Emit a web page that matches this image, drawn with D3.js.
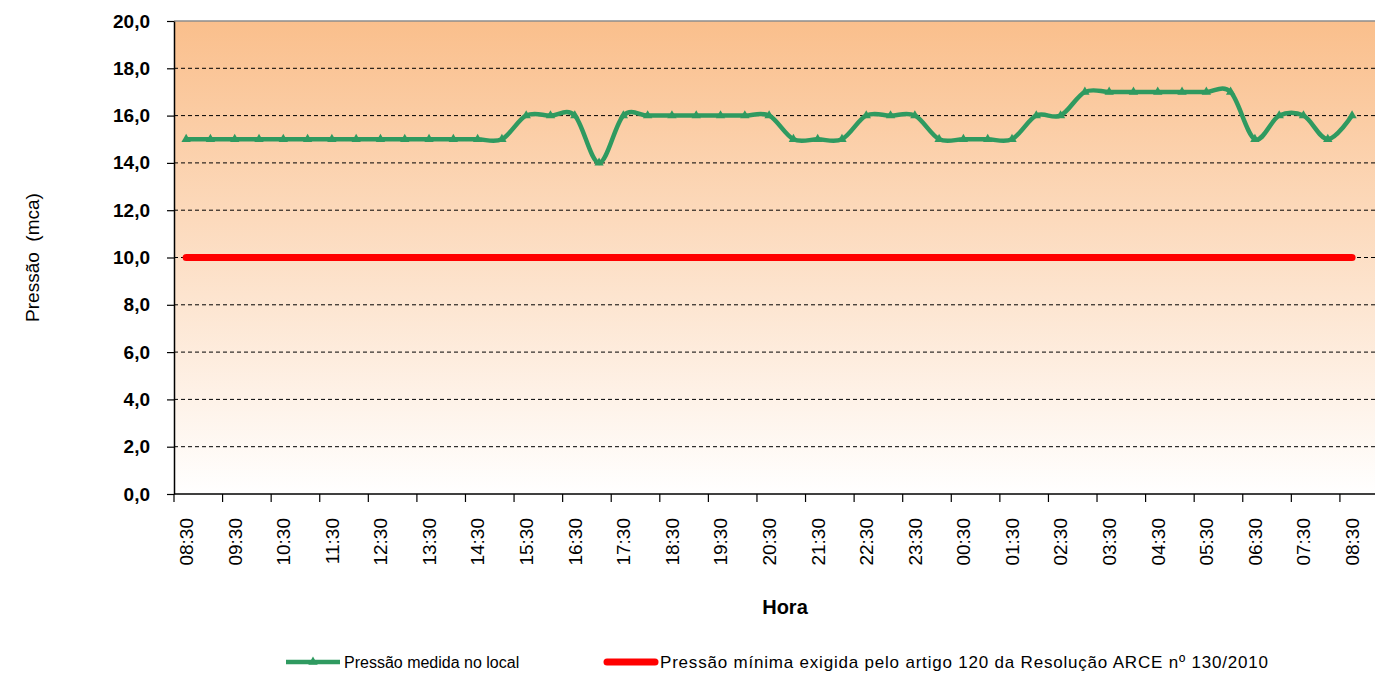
<!DOCTYPE html>
<html>
<head>
<meta charset="utf-8">
<script src="https://cdn.jsdelivr.net/npm/d3@7"></script>
<style>
  body { margin: 0; background: #fff; }
  svg { display: block; font-family: "Liberation Sans", Arial, sans-serif; }
</style>
</head>
<body>
<div id="chart"></div>
<script>
// horas (a cada 30 min, de 08:30 a 08:30 do dia seguinte)
var horas = ["08:30","09:00","09:30","10:00","10:30","11:00","11:30","12:00","12:30","13:00",
  "13:30","14:00","14:30","15:00","15:30","16:00","16:30","17:00","17:30","18:00",
  "18:30","19:00","19:30","20:00","20:30","21:00","21:30","22:00","22:30","23:00",
  "23:30","00:00","00:30","01:00","01:30","02:00","02:30","03:00","03:30","04:00",
  "04:30","05:00","05:30","06:00","06:30","07:00","07:30","08:00","08:30b"];

var pressaoMedida = [15,15,15,15,15,15,15,15,15,15,
  15,15,15,15,16,16,16,14,16,16,
  16,16,16,16,16,15,15,15,16,16,
  16,15,15,15,15,16,16,17,17,17,
  17,17,17,17,15,16,16,15,16];

var pressaoMinima = horas.map(function () { return 10; });

var yTicks = [0, 2, 4, 6, 8, 10, 12, 14, 16, 18, 20];

var nomeSerie1 = "Pressão medida no local";
var nomeSerie2 = "Pressão mínima exigida pelo artigo 120 da Resolução ARCE nº 130/2010";

var W = 1375, H = 678;
var plotLeft = 174, plotTop = 21, plotBottom = 494;
var step = 24.29;

var svg = d3.select("#chart").append("svg")
  .attr("width", W).attr("height", H);

var defs = svg.append("defs");
var grad = defs.append("linearGradient")
  .attr("id", "bg").attr("x1", 0).attr("y1", 0).attr("x2", 0).attr("y2", 1);
grad.append("stop").attr("offset", "0%").attr("stop-color", "#fabf8c");
grad.append("stop").attr("offset", "100%").attr("stop-color", "#ffffff");

var x = d3.scaleBand()
  .domain(horas)
  .range([plotLeft, plotLeft + step * horas.length]);

var y = d3.scaleLinear()
  .domain([0, 20])
  .range([plotBottom, plotTop]);

var cx = function (h) { return x(h) + x.bandwidth() / 2; };

var fmt = function (d) { return d3.format(".1f")(d).replace(".", ","); };

// fundo
svg.append("rect")
  .attr("x", plotLeft).attr("y", plotTop)
  .attr("width", W - plotLeft + 20).attr("height", plotBottom - plotTop)
  .attr("fill", "url(#bg)");

// grade
svg.append("g").selectAll("line")
  .data(yTicks.filter(function (d) { return d > 0 && d < 20; }))
  .enter().append("line")
  .attr("x1", plotLeft).attr("x2", W + 10)
  .attr("y1", function (d) { return y(d); })
  .attr("y2", function (d) { return y(d); })
  .attr("stroke", "#000")
  .attr("stroke-width", 1)
  .attr("stroke-dasharray", "4,3");

svg.append("line")
  .attr("x1", plotLeft).attr("x2", W + 10)
  .attr("y1", y(20)).attr("y2", y(20))
  .attr("stroke", "#8c8c8c").attr("stroke-width", 1.5);

// eixo y
var yAxis = svg.append("g")
  .attr("transform", "translate(" + plotLeft + ",0)")
  .call(d3.axisLeft(y).tickValues(yTicks).tickSize(7).tickSizeOuter(0).tickPadding(17).tickFormat(fmt));
yAxis.select(".domain").attr("stroke", "#000").attr("stroke-width", 1.5);
yAxis.selectAll(".tick line").attr("stroke", "#000").attr("stroke-width", 1.2);
yAxis.selectAll(".tick text")
  .attr("font-size", 19).attr("font-weight", "bold").attr("fill", "#000")
  .attr("font-family", "'Liberation Sans', Arial, sans-serif");

// eixo x
var labelHoras = horas.filter(function (d, i) { return i % 2 === 0; });
var xg = svg.append("g");
xg.append("line")
  .attr("x1", plotLeft).attr("x2", W + 10)
  .attr("y1", plotBottom).attr("y2", plotBottom)
  .attr("stroke", "#000").attr("stroke-width", 1.5);
xg.selectAll("line.tk")
  .data(labelHoras)
  .enter().append("line")
  .attr("class", "tk")
  .attr("x1", function (d) { return x(d); })
  .attr("x2", function (d) { return x(d); })
  .attr("y1", plotBottom).attr("y2", plotBottom + 8)
  .attr("stroke", "#000").attr("stroke-width", 1.2);
xg.selectAll("text")
  .data(labelHoras)
  .enter().append("text")
  .attr("transform", function (d) { return "translate(" + cx(d) + "," + (plotBottom + 24) + ") rotate(-90)"; })
  .attr("dy", "0.36em")
  .attr("text-anchor", "end")
  .attr("font-size", 19)
  .attr("fill", "#000")
  .text(function (d) { return d.replace("b", ""); });

// títulos
svg.append("text")
  .attr("transform", "translate(39," + ((plotTop + plotBottom) / 2) + ") rotate(-90)")
  .attr("text-anchor", "middle")
  .attr("font-size", 19)
  .attr("fill", "#000")
  .style("white-space", "pre")
  .text("Pressão  (mca)");

svg.append("text")
  .attr("x", 785).attr("y", 614)
  .attr("text-anchor", "middle")
  .attr("font-size", 20).attr("font-weight", "bold")
  .attr("fill", "#000")
  .text("Hora");

// linha mínima
svg.append("path")
  .datum(pressaoMinima)
  .attr("d", d3.line()
    .x(function (d, i) { return cx(horas[i]); })
    .y(function (d) { return y(d); }))
  .attr("fill", "none")
  .attr("stroke", "#ff0000")
  .attr("stroke-width", 7)
  .attr("stroke-linecap", "round");

// pressão medida
var verde = "#2f9a60";
svg.append("path")
  .datum(pressaoMedida)
  .attr("d", d3.line()
    .curve(d3.curveCardinal.tension(0))
    .x(function (d, i) { return cx(horas[i]); })
    .y(function (d) { return y(d); }))
  .attr("fill", "none")
  .attr("stroke", verde)
  .attr("stroke-width", 4.5)
  .attr("stroke-linejoin", "round");

svg.append("g").selectAll("path")
  .data(pressaoMedida)
  .enter().append("path")
  .attr("transform", function (d, i) { return "translate(" + cx(horas[i]) + "," + y(d) + ")"; })
  .attr("d", d3.symbol().type(d3.symbolTriangle).size(38))
  .attr("fill", verde);

// legenda
var leg = svg.append("g").attr("fill", "#000");
leg.append("line")
  .attr("x1", 286).attr("x2", 340).attr("y1", 662).attr("y2", 662)
  .attr("stroke", verde).attr("stroke-width", 4.5);
leg.append("path")
  .attr("transform", "translate(313,662)")
  .attr("d", d3.symbol().type(d3.symbolTriangle).size(38))
  .attr("fill", verde);
leg.append("text").attr("x", 344).attr("y", 668)
  .attr("font-size", 16)
  .text(nomeSerie1);
leg.append("line")
  .attr("x1", 607).attr("x2", 655).attr("y1", 662).attr("y2", 662)
  .attr("stroke", "#ff0000").attr("stroke-width", 7).attr("stroke-linecap", "round");
leg.append("text").attr("x", 660).attr("y", 668)
  .attr("font-size", 17)
  .attr("letter-spacing", 0.8)
  .text(nomeSerie2);
</script>
</body>
</html>
